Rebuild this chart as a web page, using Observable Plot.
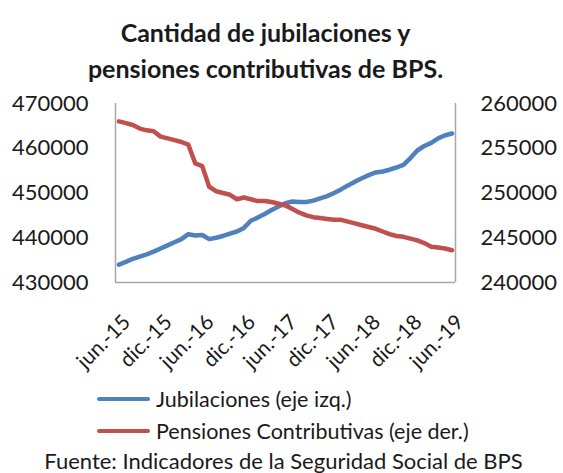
<!DOCTYPE html>
<html>
<head>
<meta charset="utf-8">
<script src="https://cdn.jsdelivr.net/npm/d3@7"></script>
<script src="https://cdn.jsdelivr.net/npm/@observablehq/plot@0.6"></script>
<style>
  html, body { margin: 0; padding: 0; background: #fff; }
  #wrap { position: relative; width: 563px; height: 473px; overflow: hidden; font-family: Lato, "Open Sans", sans-serif; color: #1a1a1a; }
  .title { position: absolute; left: 0; width: 531px; text-align: center; font-weight: bold; font-size: 25px; white-space: nowrap; line-height: 1.2; }
  .leg { position: absolute; left: 97px; height: 24px; font-size: 21.5px; white-space: nowrap; display: flex; align-items: center; }
  .sw { width: 53px; height: 4.5px; border-radius: 2px; margin-right: 6px; }
  .foot { position: absolute; left: 0; width: 567px; text-align: center; font-size: 22px; white-space: nowrap; line-height: 1.2; }
  #chart { position: absolute; left: 0; top: 80px; }
  #chart svg { overflow: visible; }
</style>
</head>
<body>
<div id="wrap">
  <div class="title" style="top:17px">Cantidad de jubilaciones y</div>
  <div class="title" style="top:53px">pensiones contributivas de BPS.</div>
  <div id="chart"></div>
  <div class="leg" style="top:387px"><div class="sw" style="background:#4F81BD"></div><span id="l1"></span></div>
  <div class="leg" style="top:419px"><div class="sw" style="background:#C0504D"></div><span id="l2"></span></div>
  <div class="foot" style="top:448px" id="foot"></div>
</div>
<script>
const months = [
  "jun.-15","jul.-15","ago.-15","set.-15","oct.-15","nov.-15","dic.-15",
  "ene.-16","feb.-16","mar.-16","abr.-16","may.-16","jun.-16","jul.-16","ago.-16","set.-16","oct.-16","nov.-16","dic.-16",
  "ene.-17","feb.-17","mar.-17","abr.-17","may.-17","jun.-17","jul.-17","ago.-17","set.-17","oct.-17","nov.-17","dic.-17",
  "ene.-18","feb.-18","mar.-18","abr.-18","may.-18","jun.-18","jul.-18","ago.-18","set.-18","oct.-18","nov.-18","dic.-18",
  "ene.-19","feb.-19","mar.-19","abr.-19","may.-19","jun.-19"
];
const jubilaciones = [
  434000, 434600, 435300, 435800, 436300, 436900, 437600, 438300, 439000, 439700,
  440800, 440500, 440600, 439700, 440000, 440400, 440900, 441400, 442200, 443800,
  444500, 445300, 446200, 447000, 447700, 448100, 448000, 448000, 448300, 448800,
  449300, 450000, 450800, 451700, 452500, 453300, 454000, 454600, 454800, 455200,
  455700, 456300, 457800, 459500, 460500, 461200, 462200, 462900, 463300
];
const pensiones = [
  258000, 257800, 257600, 257200, 257000, 256900, 256300, 256100, 255900, 255700,
  255400, 253300, 253000, 250700, 250200, 250000, 249800, 249300, 249500, 249300,
  249100, 249100, 249000, 248800, 248600, 248200, 247800, 247500, 247300, 247200,
  247100, 247000, 247000, 246800, 246600, 246400, 246200, 246000, 245700, 245400,
  245200, 245100, 244900, 244700, 244400, 244000, 243900, 243800, 243600
];
const leftTicks = [430000, 440000, 450000, 460000, 470000];
const rightTicks = [240000, 245000, 250000, 255000, 260000];
const xTickLabels = ["jun.-15","dic.-15","jun.-16","dic.-16","jun.-17","dic.-17","jun.-18","dic.-18","jun.-19"];
const seriesNames = ["Jubilaciones (eje izq.)", "Pensiones Contributivas (eje der.)"];
const source = "Fuente: Indicadores de la Seguridad Social de BPS";

// map right-axis values onto the left scale
const r0 = rightTicks[0], r1 = rightTicks[rightTicks.length - 1];
const l0 = leftTicks[0], l1 = leftTicks[leftTicks.length - 1];
const toLeft = v => l0 + (v - r0) * (l1 - l0) / (r1 - r0);

const jubData = jubilaciones.map((v, i) => ({i, v}));
const penData = pensiones.map((v, i) => ({i, v: toLeft(v)}));
const xTicks = xTickLabels.map(l => months.indexOf(l));

const chart = Plot.plot({
  width: 563,
  height: 310,
  marginTop: 23,
  marginBottom: 108,
  marginLeft: 115,
  marginRight: 108,
  style: {fontFamily: "Lato, 'Open Sans', sans-serif", fontSize: "22px", color: "#1a1a1a", background: "transparent", overflow: "visible"},
  x: {domain: [-0.5, months.length - 0.5]},
  y: {domain: [l0, l1]},
  marks: [
    Plot.ruleX([-0.5, months.length - 0.5], {stroke: "#a6a6a6", strokeWidth: 1.5}),
    Plot.ruleY([l0], {stroke: "#a6a6a6", strokeWidth: 1.5}),
    Plot.axisY({anchor: "left", ticks: leftTicks, tickSize: 0, tickPadding: 27, tickFormat: d => String(d), label: null, fontSize: 22}),
    Plot.axisY({anchor: "right", ticks: leftTicks, tickSize: 0, tickPadding: 25, tickFormat: d => String(rightTicks[leftTicks.indexOf(d)]), label: null, fontSize: 22}),
    Plot.axisX({ticks: xTicks, tickFormat: i => months[i], tickRotate: -45, tickSize: 0, tickPadding: 36, dx: 8, label: null, fontSize: 21}),
    Plot.lineY(jubData, {x: "i", y: "v", stroke: "#4F81BD", strokeWidth: 4.5, strokeLinejoin: "round", strokeLinecap: "round"}),
    Plot.lineY(penData, {x: "i", y: "v", stroke: "#C0504D", strokeWidth: 4.5, strokeLinejoin: "round", strokeLinecap: "round"})
  ]
});
document.getElementById("chart").appendChild(chart);
document.getElementById("l1").textContent = seriesNames[0];
document.getElementById("l2").textContent = seriesNames[1];
document.getElementById("foot").textContent = source;
</script>
</body>
</html>
